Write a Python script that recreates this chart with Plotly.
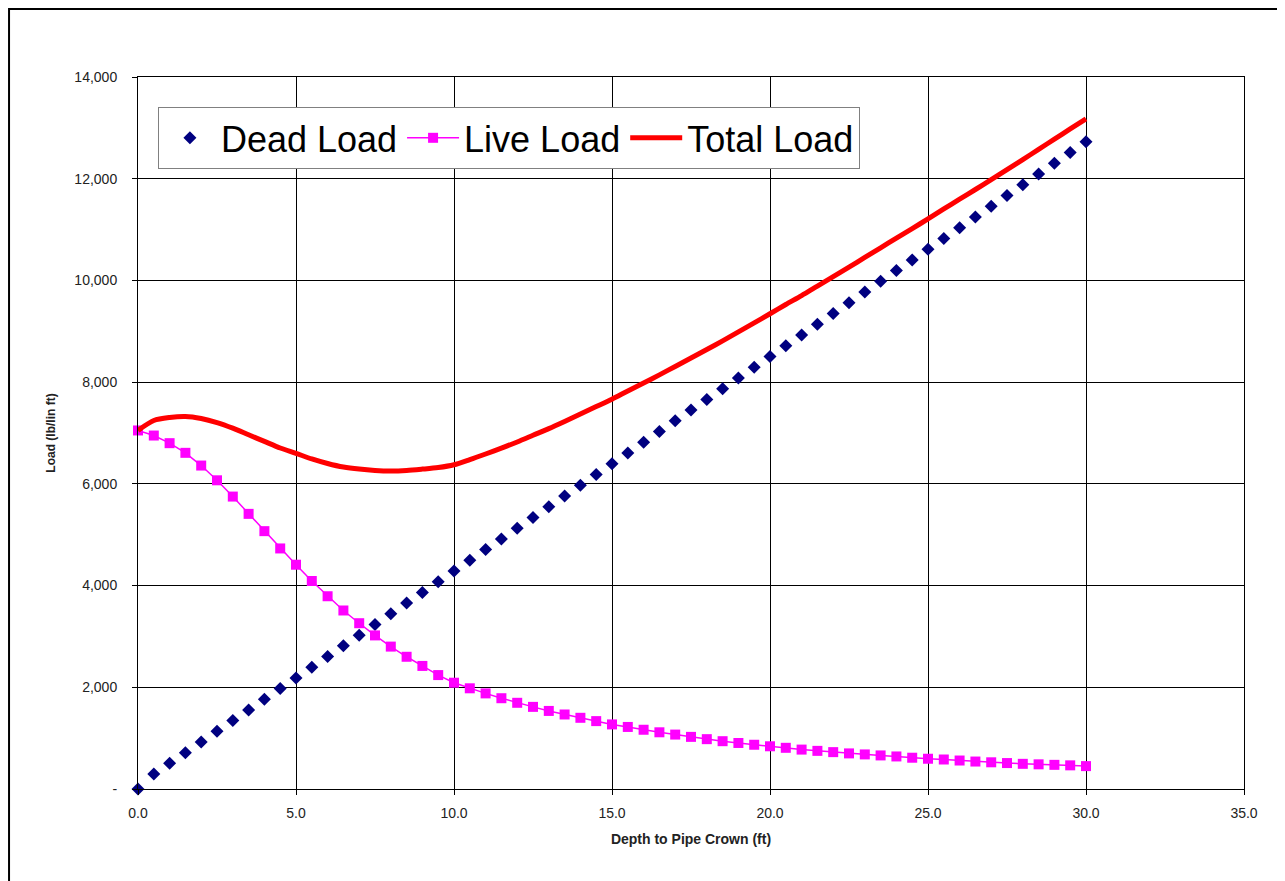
import plotly.graph_objects as go

# Depth to pipe crown (ft), every 0.5 ft
depth = [0.0, 0.5, 1.0, 1.5, 2.0, 2.5, 3.0, 3.5, 4.0, 4.5,
         5.0, 5.5, 6.0, 6.5, 7.0, 7.5, 8.0, 8.5, 9.0, 9.5,
         10.0, 10.5, 11.0, 11.5, 12.0, 12.5, 13.0, 13.5, 14.0, 14.5,
         15.0, 15.5, 16.0, 16.5, 17.0, 17.5, 18.0, 18.5, 19.0, 19.5,
         20.0, 20.5, 21.0, 21.5, 22.0, 22.5, 23.0, 23.5, 24.0, 24.5,
         25.0, 25.5, 26.0, 26.5, 27.0, 27.5, 28.0, 28.5, 29.0, 29.5,
         30.0]

dead_load = [0, 295, 505, 715, 925, 1135, 1345, 1555, 1765, 1975,
             2185, 2395, 2605, 2815, 3025, 3235, 3445, 3655, 3865, 4075,
             4285, 4496, 4707, 4918, 5129, 5340, 5551, 5762, 5973, 6184,
             6395, 6606, 6817, 7028, 7239, 7450, 7661, 7872, 8083, 8294,
             8505, 8716, 8927, 9138, 9349, 9560, 9771, 9982, 10193, 10404,
             10615, 10826, 11037, 11248, 11459, 11670, 11881, 12092, 12303, 12514,
             12725]

live_load = [7050, 6950, 6800, 6610, 6360, 6070, 5750, 5410, 5070, 4730,
             4410, 4090, 3790, 3510, 3260, 3020, 2800, 2600, 2420, 2240,
             2090, 1980, 1880, 1785, 1695, 1615, 1535, 1465, 1400, 1335,
             1270, 1220, 1165, 1115, 1070, 1025, 980, 940, 905, 870,
             840, 810, 775, 750, 725, 700, 680, 660, 640, 615,
             595, 580, 560, 540, 525, 510, 495, 485, 475, 465,
             450]

total_load = [7050, 7245, 7305, 7325, 7285, 7205, 7095, 6965, 6835, 6705,
              6600, 6490, 6400, 6330, 6290, 6265, 6255, 6265, 6290, 6320,
              6375, 6476, 6587, 6703, 6824, 6955, 7086, 7227, 7373, 7519,
              7665, 7826, 7982, 8143, 8309, 8475, 8641, 8812, 8988, 9164,
              9345, 9526, 9702, 9888, 10074, 10260, 10451, 10642, 10833, 11019,
              11210, 11406, 11597, 11788, 11984, 12180, 12376, 12577, 12778, 12979,
              13175]

y_ticks = [0, 2000, 4000, 6000, 8000, 10000, 12000, 14000]
y_tick_text = ['-', '2,000', '4,000', '6,000', '8,000', '10,000', '12,000', '14,000']
x_ticks = [0, 5, 10, 15, 20, 25, 30, 35]
x_tick_text = ['0.0', '5.0', '10.0', '15.0', '20.0', '25.0', '30.0', '35.0']

font = 'Liberation Sans, Arial, sans-serif'

fig = go.Figure()

# Dead load - navy diamonds, no line
fig.add_trace(go.Scatter(x=depth, y=dead_load, name='Dead Load',
                         mode='markers', cliponaxis=False,
                         marker=dict(symbol='diamond', size=10, color='#000080')))

# Live load - magenta squares joined by a thin line
fig.add_trace(go.Scatter(x=depth, y=live_load, name='Live Load',
                         mode='lines+markers', cliponaxis=False,
                         line=dict(color='#FF00FF', width=1.5),
                         marker=dict(symbol='square', size=10, color='#FF00FF')))

# Total load - thick smoothed red line
fig.add_trace(go.Scatter(x=depth, y=total_load, name='Total Load',
                         mode='lines', cliponaxis=False,
                         line=dict(color='#FF0000', width=5, shape='spline', smoothing=0.8)))

# the page puts the figure 8px in from the top-left corner
fig.update_layout(
    width=1277, height=873,
    margin=dict(l=130, r=41, t=69, b=92),
    paper_bgcolor='white',
    plot_bgcolor='white',
    font=dict(family=font, color='#222222'),
    showlegend=True,
    legend=dict(
        orientation='h',
        x=0.018, y=0.958, xanchor='left', yanchor='top',
        bgcolor='white', bordercolor='#808080', borderwidth=1,
        font=dict(size=36, color='black', family=font),
        itemwidth=52,
        tracegroupgap=0,
    ),
    xaxis=dict(
        range=[0, 35],
        tickvals=x_ticks, ticktext=x_tick_text,
        tickfont=dict(size=14),
        ticks='outside', ticklen=5, tickcolor='black',
        ticklabelstandoff=6,
        showgrid=True, gridcolor='black', gridwidth=1,
        showline=True, linecolor='black', linewidth=1, mirror=True,
        zeroline=False,
        title=dict(text='<b>Depth to Pipe Crown (ft)</b>', font=dict(size=14, color='#222222'),
                   standoff=14),
        automargin=False,
    ),
    yaxis=dict(
        range=[0, 14000],
        tickvals=y_ticks, ticktext=y_tick_text,
        tickfont=dict(size=14),
        ticks='outside', ticklen=5, tickcolor='black',
        ticklabelstandoff=12,
        showgrid=True, gridcolor='black', gridwidth=1,
        showline=True, linecolor='black', linewidth=1, mirror=True,
        zeroline=False,
        title=dict(text='<b>Load (lb/lin ft)</b>', font=dict(size=12, color='#222222'),
                   standoff=16),
        automargin=False,
    ),
)

# outer chart frame
fig.add_shape(type='rect', xref='paper', yref='paper',
              x0=-0.1166, x1=1.0335, y0=-0.2, y1=1.0955,
              line=dict(color='black', width=2), layer='below')

fig.write_html("out.html")
